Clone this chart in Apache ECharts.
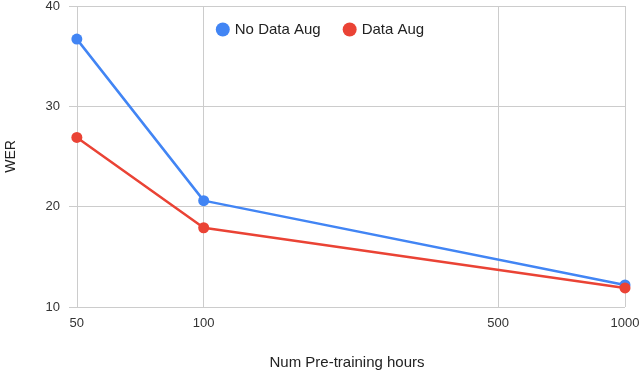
<!DOCTYPE html>
<html>
<head>
<meta charset="utf-8">
<script src="https://cdn.jsdelivr.net/npm/echarts@6/dist/echarts.min.js"></script>
<style>html,body{margin:0;padding:0;background:#fff;overflow:hidden}#c{width:640px;height:370px}</style>
</head>
<body>
<div id="c"></div>
<script>
const hours = [50, 100, 1000];
const noDataAug = [36.7, 20.6, 12.2];
const dataAug = [26.9, 17.9, 11.9];
const xTicks = [50, 100, 500, 1000];
const seriesNames = ['No Data Aug', 'Data Aug'];

const chart = echarts.init(document.getElementById('c'), null, {renderer: 'canvas', width: 640, height: 370});
const FONT = '"Liberation Sans", Arial, sans-serif';
chart.setOption({
  animation: false,
  color: ['#4285F4', '#EA4335'],
  legend: {
    top: 17,
    left: 'center',
    itemGap: 22,
    itemWidth: 14,
    itemHeight: 14,
    icon: 'circle',
    textStyle: {fontFamily: FONT, fontSize: 15, color: '#222'},
    data: seriesNames
  },
  grid: {left: 69, right: 15, top: 6, bottom: 63, containLabel: false, outerBoundsMode: 'none'},
  xAxis: {
    type: 'log',
    min: 47.9,
    max: 1000,
    name: 'Num Pre-training hours',
    nameLocation: 'middle',
    nameGap: 48,
    nameTextStyle: {fontFamily: FONT, fontSize: 15, color: '#222'},
    axisLine: {show: false},
    axisTick: {show: false, customValues: xTicks},
    axisLabel: {customValues: xTicks, formatter: v => String(Math.round(v)), fontFamily: FONT, fontSize: 13, color: '#333', margin: 10},
    splitLine: {show: true, lineStyle: {color: '#cccccc', width: 1}},
    minorSplitLine: {show: false}
  },
  yAxis: {
    type: 'value',
    min: 10,
    max: 40,
    interval: 10,
    name: 'WER',
    nameLocation: 'middle',
    nameGap: 51,
    nameTextStyle: {fontFamily: FONT, fontSize: 14, color: '#222'},
    axisLine: {show: false},
    axisTick: {show: false},
    axisLabel: {fontFamily: FONT, fontSize: 13, color: '#333', margin: 9},
    splitLine: {show: true, lineStyle: {color: '#cccccc', width: 1}}
  },
  series: [
    {
      name: seriesNames[0], type: 'line',
      data: hours.map((h, i) => [h, noDataAug[i]]),
      symbol: 'circle', symbolSize: 11,
      lineStyle: {width: 2.5}, z: 2
    },
    {
      name: seriesNames[1], type: 'line',
      data: hours.map((h, i) => [h, dataAug[i]]),
      symbol: 'circle', symbolSize: 11,
      lineStyle: {width: 2.5}, z: 3
    }
  ]
});
</script>
</body>
</html>
